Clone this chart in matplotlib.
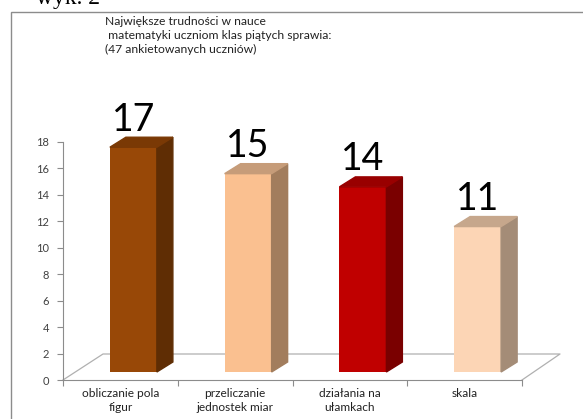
import matplotlib
matplotlib.use("Agg")
import matplotlib.pyplot as plt
from matplotlib.patches import Polygon, Rectangle

# data
categories = ["obliczanie pola\nfigur", "przeliczanie\njednostek miar",
              "działania na\nułamkach", "skala"]
values = [17, 15, 14, 11]
front_colors = ["#984807", "#fac090", "#c00000", "#fcd5b5"]
side_colors = ["#5f2d04", "#a27d5d", "#7a0000", "#a48c77"]
top_colors = ["#7a3905", "#c69c79", "#990000", "#c6a78c"]

title = ("Największe trudności w nauce\n"
         " matematyki uczniom klas piątych sprawia:\n"
         "(47 ankietowanych uczniów)")

W, H = 583, 419
fig = plt.figure(figsize=(W / 100, H / 100), dpi=100)
plt.rcParams['font.family'] = ['Lato', 'DejaVu Sans']

# outer frame and caption
fig.patches.append(Rectangle((11 / W, -0.1), 1.2, 1 - 12 / H + 0.1,
                             transform=fig.transFigure, fill=False,
                             edgecolor="#8c8c8c", linewidth=1))
fig.text(36 / W, 1 - 4 / H, "wyk. 2", family="Liberation Serif",
         fontsize=17, va="baseline", ha="left")
fig.text(105 / W, 1 - 16 / H, title, fontsize=8.7, va="top", ha="left",
         linespacing=1.35, color="#222222")

ax = fig.add_axes([63 / W, (H - 380) / H, (522 - 63) / W, (380 - 142) / H])
ax.set_xlim(0, 4)
ax.set_ylim(0, 18)

px_x = (522 - 63) / 4.0
px_y = (380 - 142) / 18.0
ddx = 16 / px_x          # depth offset of 3d boxes
ddy = 10 / px_y
base = 8 / px_y          # bars sit a little above the floor front edge
off = 13 / px_x
bw = 47 / px_x

# floor
fx, fy = 40 / px_x, 26 / px_y
ax.plot([0, fx, (560 - 63) / px_x, 4], [0, fy, fy, 0], color="#b0b0b0",
        lw=0.9, clip_on=False, zorder=1)

xs = [i + 0.5 + off for i in range(len(values))]
ax.bar(xs, values, bw, bottom=base, color=front_colors, zorder=3,
       clip_on=False)
for x, v, sc, tc in zip(xs, values, side_colors, top_colors):
    x0, x1 = x - bw / 2, x + bw / 2
    top = v + base
    ax.add_patch(Polygon([(x1, base), (x1 + ddx, base + ddy),
                          (x1 + ddx, top + ddy), (x1, top)],
                         closed=True, color=sc, clip_on=False, zorder=3))
    ax.add_patch(Polygon([(x0, top), (x0 + ddx, top + ddy),
                          (x1 + ddx, top + ddy), (x1, top)],
                         closed=True, color=tc, clip_on=False, zorder=3))
    ax.annotate(str(v), (x, top), xytext=(0, 12), textcoords="offset points",
                ha="center", va="baseline", fontsize=27, color="black")

ax.set_yticks(range(0, 19, 2))
ax.set_xticks(range(5))
ax.set_xticklabels([])
ax.set_xticks([i + 0.5 for i in range(4)], minor=True)
ax.set_xticklabels(categories, minor=True, fontsize=8.6, color="#222222",
                   linespacing=1.3)
ax.tick_params(axis="x", which="minor", length=0, pad=6)
ax.tick_params(axis="x", which="major", length=4, color="#8c8c8c")
ax.tick_params(axis="y", length=4, color="#8c8c8c", labelsize=8,
               labelcolor="#404040", pad=6)
for s in ["top", "right"]:
    ax.spines[s].set_visible(False)
for s in ["left", "bottom"]:
    ax.spines[s].set_color("#8c8c8c")
ax.patch.set_alpha(0)

fig.savefig("out.png", dpi=100)
